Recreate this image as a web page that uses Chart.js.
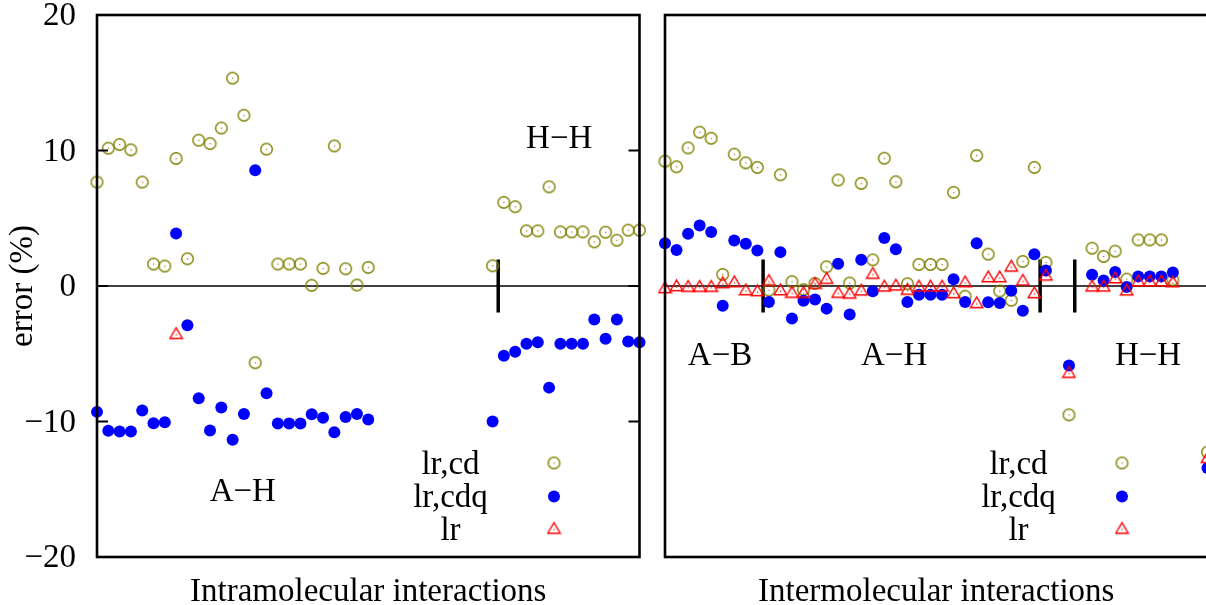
<!DOCTYPE html>
<html><head><meta charset="utf-8">
<script src="https://cdn.jsdelivr.net/npm/chart.js@4/dist/chart.umd.min.js"></script>
<style>
html,body{margin:0;padding:0;overflow:hidden;background:#fff;width:1206px;height:605px;}
#wrap{position:relative;width:1206px;height:605px;overflow:hidden;background:#fff;}
.box{position:absolute;top:0;height:605px;}
#bl{left:0;width:652px;}
#br{left:652px;width:590px;}
canvas{display:block;}
</style></head><body>
<div id="wrap"><div class="box" id="bl"><canvas id="cl" width="652" height="605"></canvas></div><div class="box" id="br"><canvas id="cr" width="590" height="605"></canvas></div></div>
<script>
// ---------- DATA ----------
const seriesNames = ['lr,cd', 'lr,cdq', 'lr'];
const yTickValues = [-20, -10, 0, 10, 20];
const yTickLabels = ['\u221220', '\u221210', '0', '10', '20'];

// Intramolecular interactions (left panel), index 0..48
const intraCd = [7.67,10.17,10.44,10.05,7.67,1.62,1.47,9.41,2.01,10.76,10.51,11.66,15.34,12.6,-5.66,10.1,1.62,1.62,1.62,0.05,1.3,10.34,1.27,0.07,1.37,
  null,null,null,null,null,null,null,null,null,null,
  1.49,6.17,5.85,4.07,4.07,7.32,3.99,3.99,3.99,3.26,3.97,3.38,4.12,4.12];
const intraCdq = [-9.29,-10.69,-10.74,-10.74,-9.19,-10.13,-10.05,3.87,-2.9,-8.29,-10.66,-8.97,-11.35,-9.44,8.55,-7.92,-10.15,-10.15,-10.15,-9.46,-9.73,-10.79,-9.66,-9.44,-9.85,
  null,null,null,null,null,null,null,null,null,null,
  -10.0,-5.15,-4.85,-4.27,-4.15,-7.5,-4.27,-4.27,-4.27,-2.48,-3.9,-2.48,-4.1,-4.15];
const intraLr = [null,null,null,null,null,null,null,-3.48,null,null,null,null,null,null,null,null,null,null,null,null,null,null,null,null,null,
  null,null,null,null,null,null,null,null,null,null,
  null,null,null,null,null,null,null,null,null,null,null,null,null,null];

// Intermolecular interactions (right panel), index 0..47
const interCd = [9.21,8.8,10.19,11.35,10.9,0.85,9.73,9.09,8.75,-0.3,8.21,0.32,-0.27,0.19,1.42,7.82,0.22,7.57,1.93,9.43,7.69,0.17,1.59,1.59,1.59,6.91,-0.76,9.63,2.35,-0.37,-1.06,1.81,8.75,
  1.74,null,-9.51,null,2.79,2.18,2.57,0.51,3.4,3.4,3.4,0.46,null,null,-12.26];
const interCdq = [3.16,2.65,3.85,4.46,3.99,-1.45,3.35,3.11,2.62,-1.18,2.5,-2.4,-1.08,-1.0,-1.67,1.64,-2.11,1.93,-0.39,3.55,2.72,-1.18,-0.64,-0.64,-0.64,0.49,-1.18,3.16,-1.2,-1.25,-0.35,-1.82,2.35,
  1.15,null,-5.86,null,0.83,0.41,1.03,-0.07,0.71,0.71,0.71,1.0,null,null,-13.43];
const interLr = [-0.1,0.05,0,0,0,0.27,0.34,-0.25,-0.32,0.44,-0.25,-0.44,-0.44,0.22,0.59,-0.44,-0.5,-0.27,0.96,0.02,0.1,-0.22,0.02,0.02,0.02,-0.47,0.34,-1.2,0.71,0.71,1.49,0.46,-0.47,
  0.83,null,-6.35,null,0.02,0.02,0.63,-0.27,0.41,0.41,0.41,0.34,null,null,-12.63];

// group separators (x positions) and group labels
const intraSeparators = [35.5];
const interSeparators = [8.5, 32.5, 35.5];
const intraGroups = ['A\u2212H', 'H\u2212H'];
const interGroups = ['A\u2212B', 'A\u2212H', 'H\u2212H'];
const panelTitles = ['Intramolecular interactions', 'Intermolecular interactions'];
const yTitle = 'error (%)';

// ---------- STYLE / LAYOUT ----------
const FONT = '"Liberation Serif", "Times New Roman", serif';
const FS = 33;
const OLIVE = '#808000', BLUE = '#0000ff', RED = '#ff0000';
const sepHalf = 1.95;

function makeRing(color){
  const c=document.createElement('canvas'); c.width=15; c.height=15;
  const g=c.getContext('2d');
  g.strokeStyle=color; g.lineWidth=1.4;
  g.beginPath(); g.arc(7.5,7.5,5.8,0,Math.PI*2); g.stroke();
  g.fillStyle=color; g.fillRect(7,7,1.2,1.2);
  return c;
}
function makeTri(color){
  const c=document.createElement('canvas'); c.width=15; c.height=15;
  const g=c.getContext('2d');
  g.strokeStyle=color; g.lineWidth=1.4;
  g.beginPath(); g.moveTo(7.5,2.2); g.lineTo(13.7,12.7); g.lineTo(1.3,12.7); g.closePath(); g.stroke();
  g.fillStyle=color; g.fillRect(7,8.5,1.2,1.2);
  return c;
}
const ringImg = makeRing(OLIVE);
const triImg = makeTri(RED);

function pts(arr){ const out=[]; arr.forEach((v,i)=>{ if(v!==null) out.push({x:i,y:v}); }); return out; }

function buildDatasets(cd, cdq, lr, seps, xMax){
  const ds = [
    {label:seriesNames[2], data:pts(lr), pointStyle:triImg, pointRadius:6, order:0, clip:false},
    {label:seriesNames[1], data:pts(cdq), pointStyle:'circle', pointRadius:6, backgroundColor:BLUE, borderColor:BLUE, borderWidth:0, order:1, clip:false},
    {label:seriesNames[0], data:pts(cd), pointStyle:ringImg, pointRadius:6, order:2, clip:false},
  ];
  seps.forEach(x=>ds.push({label:'sep', data:[{x:x,y:-sepHalf},{x:x,y:sepHalf}], showLine:true, borderColor:'#000', borderWidth:3.5, pointRadius:0, order:3}));
  ds.push({label:'zero', data:[{x:0,y:0},{x:xMax,y:0}], showLine:true, borderColor:'#000', borderWidth:1.4, pointRadius:0, order:4});
  return ds;
}

function decoPlugin(opts){
  return {
    id:'deco'+opts.name,
    afterDatasetsDraw(chart){
      const ctx=chart.ctx, ca=chart.chartArea, xs=chart.scales.x, ys=chart.scales.y;
      ctx.save();
      // frame
      ctx.strokeStyle='#000'; ctx.lineWidth=2.6;
      ctx.strokeRect(ca.left, ca.top, ca.right-ca.left, ca.bottom-ca.top);
      ctx.fillStyle='#000';
      ctx.font = FS+'px '+FONT;
      if(opts.ticks){
        ctx.lineWidth=2;
        ctx.textAlign='right'; ctx.textBaseline='middle';
        yTickValues.forEach((v,k)=>{
          const y=ys.getPixelForValue(v);
          ctx.beginPath(); ctx.moveTo(ca.left,y); ctx.lineTo(ca.left+11,y); ctx.stroke();
          ctx.beginPath(); ctx.moveTo(ca.right,y); ctx.lineTo(ca.right-11,y); ctx.stroke();
          ctx.fillText(yTickLabels[k], ca.left-21, y+1.5);
        });
      }
      ctx.textBaseline='alphabetic';
      ctx.textAlign='center';
      // group labels (data coordinates)
      opts.labels.forEach(l=>{
        ctx.fillText(l.text, xs.getPixelForValue(l.x), ys.getPixelForValue(l.y));
      });
      // key
      const lx = ca.right-189, sx = ca.right-85.5;
      const rows = [ca.bottom-83, ca.bottom-50, ca.bottom-17];
      const syms = [ca.bottom-94, ca.bottom-60.5, ca.bottom-29];
      for(let k=0;k<3;k++){
        ctx.fillStyle='#000';
        ctx.fillText(seriesNames[k], lx, rows[k]);
        if(k===0) ctx.drawImage(ringImg, sx-7.5, syms[k]-7.5);
        if(k===1){ ctx.fillStyle=BLUE; ctx.beginPath(); ctx.arc(sx, syms[k], 6, 0, Math.PI*2); ctx.fill(); }
        if(k===2) ctx.drawImage(triImg, sx-7.5, syms[k]-7.5);
      }
      // axis titles
      ctx.fillStyle='#000';
      ctx.fillText(opts.title, opts.titleX != null ? opts.titleX : (ca.left+ca.right)/2, 601);
      if(opts.yTitle){
        ctx.save();
        ctx.translate(32, (ca.top+ca.bottom)/2);
        ctx.rotate(-Math.PI/2);
        ctx.textAlign='center';
        ctx.fillText(opts.yTitle, 0, 0);
        ctx.restore();
      }
      ctx.restore();
    }
  };
}

Chart.defaults.font.family = FONT;

function makeChart(id, datasets, xMax, padding, deco){
  return new Chart(document.getElementById(id), {
    type:'scatter',
    data:{datasets:datasets},
    options:{
      responsive:false, maintainAspectRatio:false, animation:false, devicePixelRatio:1, events:[],
      layout:{padding:padding},
      plugins:{legend:{display:false}, tooltip:{enabled:false}},
      scales:{
        x:{type:'linear', min:0, max:xMax, display:false},
        y:{type:'linear', min:-20, max:20, display:false}
      }
    },
    plugins:[deco]
  });
}

makeChart('cl', buildDatasets(intraCd, intraCdq, intraLr, intraSeparators, 48), 48,
  {left:97, right:12.5, top:15, bottom:48},
  decoPlugin({name:'L', ticks:true, title:panelTitles[0], yTitle:yTitle,
    labels:[{text:intraGroups[0], x:12.9, y:-15.9},{text:intraGroups[1], x:40.9, y:10.15}]}));

makeChart('cr', buildDatasets(interCd, interCdq, interLr, interSeparators, 47), 47,
  {left:13, right:34.5, top:15, bottom:48},
  decoPlugin({name:'R', ticks:false, title:panelTitles[1], yTitle:null,
    labels:[{text:interGroups[0], x:4.77, y:-5.83},{text:interGroups[1], x:19.85, y:-5.83},{text:interGroups[2], x:41.85, y:-5.83}]}));
</script>
</body></html>
